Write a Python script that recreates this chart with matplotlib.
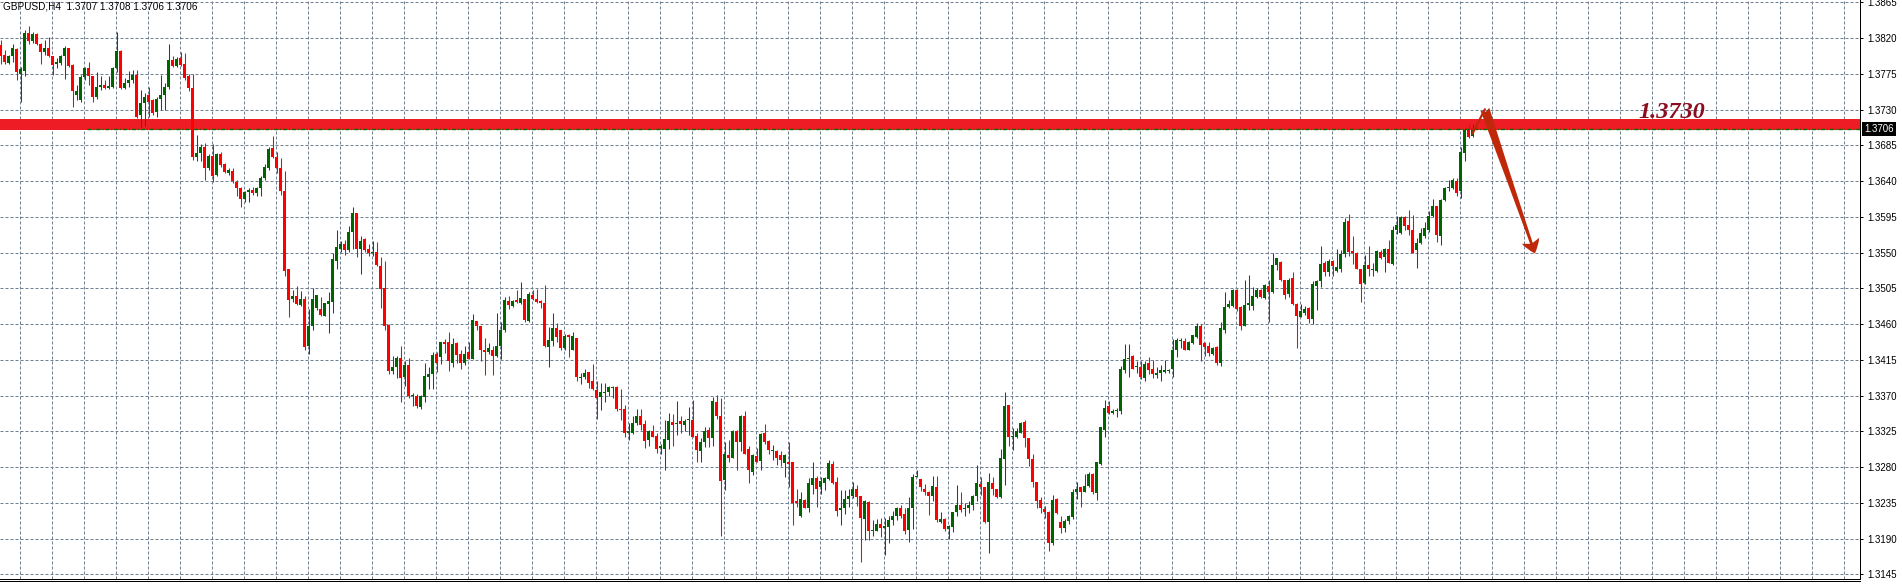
import numpy as np
import matplotlib
matplotlib.use('Agg')
import matplotlib.pyplot as plt
from matplotlib.lines import Line2D
from matplotlib.transforms import blended_transform_factory

# GBPUSD H4 candles, oldest first
opens = [
    1.3811, 1.3799, 1.3789, 1.3797, 1.3807, 1.3775, 1.3779, 1.3827, 1.3817, 1.3825,
    1.3813, 1.3802, 1.3808, 1.3797, 1.3788, 1.3789, 1.3797, 1.3808, 1.3786, 1.3748,
    1.3742, 1.3771, 1.3782, 1.3772, 1.3746, 1.3758, 1.3761, 1.3757, 1.3759, 1.3782,
    1.3804, 1.3757, 1.3763, 1.3767, 1.3774, 1.3723, 1.3738, 1.3749, 1.3742, 1.3727,
    1.3743, 1.3749, 1.3758, 1.3793, 1.3785, 1.3795, 1.3788, 1.3772, 1.3757, 1.3671,
    1.3676, 1.3683, 1.3656, 1.3672, 1.3648, 1.3674, 1.3662, 1.3650, 1.3653, 1.3639,
    1.3631, 1.3617, 1.3626, 1.3629, 1.3625, 1.3631, 1.3644, 1.3656, 1.3682, 1.3671,
    1.3656, 1.3628, 1.3529, 1.3491, 1.3495, 1.3484, 1.3492, 1.3433, 1.3458, 1.3480,
    1.3479, 1.3470, 1.3485, 1.3488, 1.3540, 1.3555, 1.3561, 1.3553, 1.3576, 1.3600,
    1.3555, 1.3567, 1.3555, 1.3550, 1.3551, 1.3533, 1.3506, 1.3459, 1.3401, 1.3406,
    1.3417, 1.3393, 1.3409, 1.3369, 1.3369, 1.3356, 1.3368, 1.3393, 1.3397, 1.3422,
    1.3419, 1.3438, 1.3438, 1.3411, 1.3436, 1.3423, 1.3411, 1.3425, 1.3416, 1.3464,
    1.3457, 1.3428, 1.3425, 1.3428, 1.3420, 1.3432, 1.3453, 1.3489, 1.3483, 1.3490,
    1.3487, 1.3491, 1.3464, 1.3497, 1.3491, 1.3489, 1.3487, 1.3431, 1.3439, 1.3455,
    1.3453, 1.3430, 1.3446, 1.3427, 1.3443, 1.3392, 1.3393, 1.3400, 1.3388, 1.3377,
    1.3368, 1.3373, 1.3374, 1.3379, 1.3381, 1.3353, 1.3353, 1.3323, 1.3323, 1.3335,
    1.3344, 1.3334, 1.3314, 1.3326, 1.3319, 1.3304, 1.3303, 1.3314, 1.3337, 1.3334,
    1.3338, 1.3333, 1.3339, 1.3339, 1.3319, 1.3300, 1.3312, 1.3327, 1.3316, 1.3362,
    1.3344, 1.3264, 1.3295, 1.3292, 1.3325, 1.3312, 1.3344, 1.3303, 1.3274, 1.3294,
    1.3288, 1.3323, 1.3313, 1.3300, 1.3300, 1.3295, 1.3285, 1.3287, 1.3287, 1.3237,
    1.3218, 1.3239, 1.3229, 1.3258, 1.3266, 1.3255, 1.3260, 1.3265, 1.3284, 1.3261,
    1.3226, 1.3228, 1.3240, 1.3243, 1.3253, 1.3243, 1.3215, 1.3236, 1.3199, 1.3200,
    1.3208, 1.3203, 1.3205, 1.3213, 1.3218, 1.3229, 1.3221, 1.3201, 1.3228, 1.3268,
    1.3265, 1.3253, 1.3249, 1.3243, 1.3255, 1.3211, 1.3214, 1.3202, 1.3204, 1.3223,
    1.3232, 1.3227, 1.3228, 1.3232, 1.3243, 1.3259, 1.3255, 1.3211, 1.3260, 1.3253,
    1.3242, 1.3290, 1.3358, 1.3318, 1.3318, 1.3323, 1.3337, 1.3317, 1.3290, 1.3261,
    1.3238, 1.3227, 1.3223, 1.3185, 1.3240, 1.3211, 1.3203, 1.3212, 1.3217, 1.3248,
    1.3255, 1.3249, 1.3256, 1.3271, 1.3247, 1.3284, 1.3327, 1.3357, 1.3348, 1.3350,
    1.3351, 1.3402, 1.3416, 1.3420, 1.3406, 1.3406, 1.3392, 1.3411, 1.3403, 1.3396,
    1.3398, 1.3400, 1.3401, 1.3403, 1.3427, 1.3439, 1.3439, 1.3427, 1.3436, 1.3444,
    1.3458, 1.3436, 1.3433, 1.3422, 1.3431, 1.3411, 1.3453, 1.3482, 1.3483, 1.3503,
    1.3482, 1.3458, 1.3484, 1.3483, 1.3494, 1.3503, 1.3493, 1.3508, 1.3501, 1.3534,
    1.3538, 1.3516, 1.3498, 1.3518, 1.3485, 1.3469, 1.3474, 1.3480, 1.3467, 1.3508,
    1.3514, 1.3537, 1.3526, 1.3539, 1.3527, 1.3530, 1.3548, 1.3590, 1.3552, 1.3550,
    1.3529, 1.3512, 1.3534, 1.3528, 1.3527, 1.3551, 1.3544, 1.3554, 1.3536, 1.3578,
    1.3575, 1.3595, 1.3585, 1.3579, 1.3553, 1.3562, 1.3571, 1.3578, 1.3596, 1.3609,
    1.3571, 1.3616, 1.3632, 1.3631, 1.3640, 1.3627, 1.3676, 1.3704, 1.3697, 1.3707,
]
highs = [
    1.3818, 1.3805, 1.3799, 1.3813, 1.3808, 1.3784, 1.3830, 1.3835, 1.3828, 1.3827,
    1.3814, 1.3818, 1.3822, 1.3798, 1.3795, 1.3799, 1.3810, 1.3808, 1.3788, 1.3761,
    1.3774, 1.3784, 1.3790, 1.3772, 1.3778, 1.3772, 1.3767, 1.3772, 1.3784, 1.3828,
    1.3805, 1.3770, 1.3779, 1.3780, 1.3780, 1.3755, 1.3751, 1.3758, 1.3743, 1.3746,
    1.3774, 1.3763, 1.3813, 1.3797, 1.3796, 1.3802, 1.3801, 1.3775, 1.3775, 1.3698,
    1.3687, 1.3688, 1.3674, 1.3687, 1.3675, 1.3677, 1.3663, 1.3656, 1.3656, 1.3642,
    1.3633, 1.3628, 1.3631, 1.3633, 1.3633, 1.3646, 1.3662, 1.3683, 1.3697, 1.3677,
    1.3669, 1.3653, 1.3530, 1.3503, 1.3508, 1.3502, 1.3495, 1.3479, 1.3506, 1.3497,
    1.3494, 1.3487, 1.3500, 1.3549, 1.3579, 1.3565, 1.3566, 1.3583, 1.3607, 1.3600,
    1.3571, 1.3568, 1.3561, 1.3565, 1.3564, 1.3545, 1.3539, 1.3460, 1.3420, 1.3420,
    1.3432, 1.3414, 1.3417, 1.3373, 1.3372, 1.3371, 1.3411, 1.3406, 1.3425, 1.3425,
    1.3437, 1.3441, 1.3450, 1.3443, 1.3437, 1.3427, 1.3432, 1.3438, 1.3473, 1.3464,
    1.3457, 1.3442, 1.3436, 1.3432, 1.3474, 1.3463, 1.3494, 1.3495, 1.3490, 1.3503,
    1.3513, 1.3492, 1.3500, 1.3503, 1.3504, 1.3490, 1.3509, 1.3456, 1.3474, 1.3461,
    1.3453, 1.3448, 1.3448, 1.3450, 1.3443, 1.3398, 1.3404, 1.3400, 1.3410, 1.3388,
    1.3386, 1.3386, 1.3382, 1.3382, 1.3382, 1.3378, 1.3358, 1.3335, 1.3344, 1.3353,
    1.3353, 1.3339, 1.3327, 1.3333, 1.3323, 1.3309, 1.3339, 1.3348, 1.3347, 1.3363,
    1.3344, 1.3341, 1.3356, 1.3364, 1.3323, 1.3316, 1.3330, 1.3331, 1.3368, 1.3371,
    1.3367, 1.3312, 1.3314, 1.3327, 1.3327, 1.3346, 1.3351, 1.3307, 1.3296, 1.3304,
    1.3323, 1.3334, 1.3314, 1.3308, 1.3302, 1.3300, 1.3297, 1.3311, 1.3287, 1.3252,
    1.3249, 1.3240, 1.3266, 1.3287, 1.3269, 1.3268, 1.3267, 1.3289, 1.3288, 1.3268,
    1.3251, 1.3251, 1.3252, 1.3261, 1.3258, 1.3244, 1.3239, 1.3237, 1.3213, 1.3214,
    1.3216, 1.3216, 1.3218, 1.3225, 1.3230, 1.3232, 1.3228, 1.3242, 1.3271, 1.3276,
    1.3265, 1.3259, 1.3250, 1.3269, 1.3269, 1.3223, 1.3216, 1.3207, 1.3224, 1.3258,
    1.3248, 1.3235, 1.3237, 1.3245, 1.3283, 1.3267, 1.3255, 1.3272, 1.3268, 1.3253,
    1.3303, 1.3375, 1.3358, 1.3329, 1.3329, 1.3337, 1.3339, 1.3317, 1.3297, 1.3261,
    1.3242, 1.3231, 1.3225, 1.3245, 1.3241, 1.3219, 1.3214, 1.3220, 1.3253, 1.3261,
    1.3255, 1.3271, 1.3274, 1.3272, 1.3287, 1.3331, 1.3364, 1.3363, 1.3353, 1.3354,
    1.3407, 1.3435, 1.3435, 1.3421, 1.3414, 1.3413, 1.3413, 1.3418, 1.3415, 1.3406,
    1.3409, 1.3415, 1.3403, 1.3441, 1.3442, 1.3442, 1.3442, 1.3439, 1.3446, 1.3461,
    1.3460, 1.3437, 1.3437, 1.3431, 1.3432, 1.3463, 1.3500, 1.3490, 1.3504, 1.3504,
    1.3483, 1.3516, 1.3522, 1.3507, 1.3506, 1.3504, 1.3511, 1.3516, 1.3549, 1.3543,
    1.3539, 1.3516, 1.3518, 1.3525, 1.3486, 1.3485, 1.3483, 1.3481, 1.3514, 1.3516,
    1.3558, 1.3539, 1.3542, 1.3541, 1.3554, 1.3553, 1.3593, 1.3599, 1.3571, 1.3551,
    1.3530, 1.3547, 1.3558, 1.3537, 1.3553, 1.3553, 1.3556, 1.3566, 1.3584, 1.3596,
    1.3596, 1.3596, 1.3604, 1.3597, 1.3568, 1.3581, 1.3589, 1.3602, 1.3618, 1.3609,
    1.3617, 1.3633, 1.3642, 1.3644, 1.3644, 1.3683, 1.3707, 1.3712, 1.3712, 1.3708,
]
lows = [
    1.3788, 1.3788, 1.3788, 1.3790, 1.3767, 1.3740, 1.3772, 1.3813, 1.3814, 1.3811,
    1.3788, 1.3799, 1.3796, 1.3774, 1.3782, 1.3786, 1.3769, 1.3784, 1.3734, 1.3742,
    1.3740, 1.3767, 1.3761, 1.3740, 1.3744, 1.3755, 1.3756, 1.3756, 1.3757, 1.3778,
    1.3756, 1.3756, 1.3759, 1.3764, 1.3719, 1.3708, 1.3709, 1.3721, 1.3723, 1.3721,
    1.3729, 1.3730, 1.3756, 1.3784, 1.3784, 1.3785, 1.3767, 1.3753, 1.3667, 1.3665,
    1.3665, 1.3642, 1.3654, 1.3639, 1.3646, 1.3658, 1.3650, 1.3648, 1.3638, 1.3621,
    1.3608, 1.3614, 1.3614, 1.3623, 1.3621, 1.3621, 1.3642, 1.3654, 1.3669, 1.3650,
    1.3623, 1.3520, 1.3469, 1.3488, 1.3484, 1.3483, 1.3428, 1.3423, 1.3453, 1.3478,
    1.3470, 1.3470, 1.3449, 1.3474, 1.3530, 1.3551, 1.3547, 1.3551, 1.3555, 1.3544,
    1.3523, 1.3551, 1.3546, 1.3546, 1.3533, 1.3480, 1.3453, 1.3397, 1.3397, 1.3392,
    1.3362, 1.3382, 1.3367, 1.3357, 1.3354, 1.3353, 1.3362, 1.3378, 1.3378, 1.3400,
    1.3410, 1.3424, 1.3401, 1.3406, 1.3411, 1.3404, 1.3409, 1.3416, 1.3416, 1.3453,
    1.3414, 1.3396, 1.3423, 1.3396, 1.3419, 1.3416, 1.3450, 1.3479, 1.3482, 1.3486,
    1.3485, 1.3463, 1.3463, 1.3490, 1.3487, 1.3480, 1.3431, 1.3406, 1.3432, 1.3437,
    1.3427, 1.3427, 1.3418, 1.3427, 1.3389, 1.3385, 1.3391, 1.3380, 1.3377, 1.3341,
    1.3352, 1.3362, 1.3370, 1.3367, 1.3350, 1.3339, 1.3318, 1.3314, 1.3322, 1.3333,
    1.3327, 1.3304, 1.3307, 1.3318, 1.3298, 1.3297, 1.3276, 1.3303, 1.3307, 1.3321,
    1.3323, 1.3326, 1.3321, 1.3318, 1.3287, 1.3286, 1.3305, 1.3305, 1.3306, 1.3341,
    1.3193, 1.3251, 1.3287, 1.3291, 1.3276, 1.3300, 1.3297, 1.3260, 1.3270, 1.3286,
    1.3276, 1.3309, 1.3297, 1.3289, 1.3283, 1.3281, 1.3267, 1.3255, 1.3207, 1.3230,
    1.3217, 1.3228, 1.3223, 1.3246, 1.3230, 1.3246, 1.3251, 1.3264, 1.3259, 1.3218,
    1.3207, 1.3221, 1.3230, 1.3241, 1.3231, 1.3160, 1.3188, 1.3188, 1.3193, 1.3199,
    1.3192, 1.3169, 1.3185, 1.3207, 1.3213, 1.3216, 1.3196, 1.3186, 1.3202, 1.3267,
    1.3250, 1.3245, 1.3220, 1.3237, 1.3211, 1.3209, 1.3200, 1.3190, 1.3198, 1.3218,
    1.3223, 1.3218, 1.3222, 1.3226, 1.3237, 1.3245, 1.3209, 1.3172, 1.3245, 1.3241,
    1.3241, 1.3258, 1.3306, 1.3301, 1.3316, 1.3323, 1.3305, 1.3281, 1.3255, 1.3228,
    1.3222, 1.3216, 1.3174, 1.3182, 1.3221, 1.3197, 1.3198, 1.3208, 1.3214, 1.3240,
    1.3230, 1.3248, 1.3255, 1.3246, 1.3239, 1.3283, 1.3318, 1.3347, 1.3347, 1.3343,
    1.3347, 1.3398, 1.3393, 1.3403, 1.3398, 1.3391, 1.3389, 1.3397, 1.3392, 1.3392,
    1.3389, 1.3398, 1.3399, 1.3394, 1.3418, 1.3430, 1.3427, 1.3427, 1.3435, 1.3443,
    1.3414, 1.3420, 1.3420, 1.3421, 1.3409, 1.3407, 1.3449, 1.3480, 1.3482, 1.3477,
    1.3453, 1.3458, 1.3478, 1.3478, 1.3493, 1.3493, 1.3491, 1.3463, 1.3499, 1.3528,
    1.3514, 1.3492, 1.3494, 1.3484, 1.3430, 1.3469, 1.3472, 1.3462, 1.3460, 1.3478,
    1.3507, 1.3520, 1.3521, 1.3521, 1.3526, 1.3526, 1.3545, 1.3546, 1.3536, 1.3529,
    1.3488, 1.3511, 1.3520, 1.3521, 1.3526, 1.3542, 1.3526, 1.3537, 1.3534, 1.3574,
    1.3574, 1.3579, 1.3572, 1.3549, 1.3531, 1.3561, 1.3569, 1.3576, 1.3595, 1.3564,
    1.3560, 1.3615, 1.3628, 1.3630, 1.3621, 1.3619, 1.3666, 1.3694, 1.3696, 1.3706,
]
closes = [
    1.3797, 1.3790, 1.3798, 1.3808, 1.3778, 1.3781, 1.3827, 1.3817, 1.3825, 1.3813,
    1.3802, 1.3808, 1.3797, 1.3786, 1.3790, 1.3797, 1.3808, 1.3785, 1.3753, 1.3754,
    1.3771, 1.3782, 1.3772, 1.3746, 1.3758, 1.3761, 1.3757, 1.3760, 1.3782, 1.3804,
    1.3757, 1.3763, 1.3767, 1.3774, 1.3721, 1.3738, 1.3746, 1.3740, 1.3726, 1.3743,
    1.3749, 1.3758, 1.3792, 1.3785, 1.3794, 1.3786, 1.3770, 1.3757, 1.3671, 1.3676,
    1.3683, 1.3656, 1.3672, 1.3646, 1.3674, 1.3660, 1.3652, 1.3654, 1.3640, 1.3631,
    1.3617, 1.3626, 1.3629, 1.3625, 1.3631, 1.3644, 1.3658, 1.3681, 1.3670, 1.3656,
    1.3628, 1.3527, 1.3490, 1.3495, 1.3485, 1.3491, 1.3431, 1.3458, 1.3491, 1.3497,
    1.3471, 1.3486, 1.3489, 1.3542, 1.3557, 1.3561, 1.3553, 1.3576, 1.3600, 1.3555,
    1.3565, 1.3553, 1.3550, 1.3551, 1.3534, 1.3504, 1.3458, 1.3401, 1.3406, 1.3417,
    1.3392, 1.3408, 1.3369, 1.3371, 1.3357, 1.3370, 1.3395, 1.3397, 1.3421, 1.3411,
    1.3437, 1.3435, 1.3413, 1.3435, 1.3421, 1.3411, 1.3423, 1.3416, 1.3465, 1.3457,
    1.3428, 1.3425, 1.3430, 1.3420, 1.3432, 1.3453, 1.3490, 1.3484, 1.3489, 1.3488,
    1.3493, 1.3465, 1.3498, 1.3492, 1.3488, 1.3486, 1.3432, 1.3440, 1.3455, 1.3444,
    1.3430, 1.3445, 1.3444, 1.3445, 1.3393, 1.3394, 1.3398, 1.3386, 1.3378, 1.3367,
    1.3374, 1.3375, 1.3381, 1.3381, 1.3353, 1.3352, 1.3323, 1.3325, 1.3335, 1.3344,
    1.3333, 1.3313, 1.3325, 1.3318, 1.3303, 1.3306, 1.3315, 1.3338, 1.3333, 1.3334,
    1.3334, 1.3338, 1.3339, 1.3318, 1.3301, 1.3312, 1.3326, 1.3317, 1.3363, 1.3344,
    1.3263, 1.3297, 1.3292, 1.3326, 1.3311, 1.3344, 1.3297, 1.3276, 1.3295, 1.3287,
    1.3322, 1.3311, 1.3301, 1.3301, 1.3291, 1.3289, 1.3295, 1.3284, 1.3235, 1.3235,
    1.3240, 1.3229, 1.3260, 1.3266, 1.3253, 1.3262, 1.3266, 1.3285, 1.3260, 1.3225,
    1.3228, 1.3240, 1.3244, 1.3253, 1.3242, 1.3216, 1.3237, 1.3200, 1.3200, 1.3208,
    1.3203, 1.3206, 1.3213, 1.3218, 1.3229, 1.3219, 1.3200, 1.3229, 1.3267, 1.3269,
    1.3255, 1.3249, 1.3244, 1.3256, 1.3213, 1.3214, 1.3202, 1.3206, 1.3223, 1.3232,
    1.3226, 1.3228, 1.3232, 1.3243, 1.3260, 1.3255, 1.3211, 1.3261, 1.3252, 1.3242,
    1.3291, 1.3357, 1.3318, 1.3319, 1.3325, 1.3336, 1.3317, 1.3290, 1.3261, 1.3237,
    1.3228, 1.3223, 1.3184, 1.3239, 1.3222, 1.3203, 1.3212, 1.3219, 1.3248, 1.3253,
    1.3248, 1.3256, 1.3271, 1.3248, 1.3286, 1.3330, 1.3355, 1.3348, 1.3350, 1.3352,
    1.3403, 1.3416, 1.3417, 1.3404, 1.3407, 1.3393, 1.3410, 1.3402, 1.3397, 1.3399,
    1.3402, 1.3402, 1.3402, 1.3427, 1.3440, 1.3440, 1.3428, 1.3437, 1.3446, 1.3457,
    1.3434, 1.3431, 1.3424, 1.3430, 1.3411, 1.3455, 1.3481, 1.3485, 1.3503, 1.3479,
    1.3458, 1.3484, 1.3486, 1.3495, 1.3503, 1.3494, 1.3509, 1.3501, 1.3534, 1.3543,
    1.3515, 1.3497, 1.3516, 1.3485, 1.3470, 1.3477, 1.3479, 1.3467, 1.3511, 1.3514,
    1.3536, 1.3525, 1.3539, 1.3533, 1.3532, 1.3548, 1.3589, 1.3551, 1.3550, 1.3530,
    1.3511, 1.3534, 1.3530, 1.3529, 1.3552, 1.3543, 1.3555, 1.3537, 1.3579, 1.3585,
    1.3595, 1.3584, 1.3579, 1.3550, 1.3562, 1.3575, 1.3581, 1.3596, 1.3609, 1.3572,
    1.3616, 1.3631, 1.3633, 1.3642, 1.3625, 1.3677, 1.3704, 1.3695, 1.3705, 1.3706,
]

# right hand price scale
price_ticks = [1.3145, 1.3190, 1.3235, 1.3280, 1.3325, 1.3370, 1.3415, 1.3460, 1.3505,
               1.3550, 1.3595, 1.3640, 1.3685, 1.3730, 1.3775, 1.3820, 1.3865]
price_labels = ['%.4f' % p for p in price_ticks]

# drawn level, bid line and label
level_text = '1.3730'
level_band = [1.37045, 1.37183]
bid_price = 1.3706
bid_start = 21.6

# hand drawn arrow: from the last candles up to the peak, then down to the tip
arrow_x = [368.0, 371.1, 383.6]
arrow_y = [1.3700, 1.37305, 1.3549]

title = 'GBPUSD,H4  1.3707 1.3708 1.3706 1.3706'

bull_col = '#006400'
bear_col = '#ff0000'
grid_col = '#708090'
band_col = '#ee1c25'
arrow_col = '#c0280a'

o = np.array(opens)
h = np.array(highs)
l = np.array(lows)
c = np.array(closes)
idx = np.arange(len(o))
h = np.maximum(h, np.maximum(o, c))
l = np.minimum(l, np.minimum(o, c))
cols = np.where(c >= o, bull_col, bear_col)

W, H = 1902, 584
fig = plt.figure(figsize=(W / 100, H / 100), dpi=100)
ax = fig.add_axes([0, 5.5 / H, 1860 / W, 578.5 / H])
ax.set_xlim(-0.125, 464.875)
ax.set_ylim(1.31397, 1.38681)

# grid
ax.set_axisbelow(True)
ax.set_xticks(np.arange(4.95, 464, 8))
ax.set_yticks(price_ticks)
ax.set_yticklabels(price_labels)
ax.grid(True, color=grid_col, lw=0.72, linestyle=(0, (3, 2)))
ax.tick_params(axis='x', length=0, labelbottom=False)
ax.yaxis.tick_right()
ax.tick_params(axis='y', direction='out', length=2.2, width=0.72, pad=3,
               labelsize=7, colors='black')
for t in ax.get_yticklabels():
    t.set_fontfamily('Liberation Sans')

for s in ['left', 'top']:
    ax.spines[s].set_visible(False)
for s in ['right', 'bottom']:
    ax.spines[s].set_linewidth(0.72)
    ax.spines[s].set_color('black')
fig.add_artist(Line2D([0, 1860 / W], [3.5 / H, 3.5 / H], transform=fig.transFigure,
                      color='black', lw=0.72))

# level band and bid line
ax.axhspan(level_band[0], level_band[1], color=band_col, lw=0, zorder=1)
ax.hlines(bid_price, bid_start, 464.875, colors='#007000', lw=1.0,
          linestyles=(0, (2.9, 1.4, 0.7, 1.4)), zorder=2)

# candles
ax.vlines(idx, l, h, colors=cols, lw=0.75, zorder=3)
body = np.maximum(np.abs(c - o), 0.00012)
ax.bar(idx, body, width=0.75, bottom=np.minimum(o, c), color=cols, lw=0, zorder=4)

# arrow
ax.plot(arrow_x[:2], arrow_y[:2], color=arrow_col, lw=1.6, solid_capstyle='round', zorder=5)
ax.annotate('', xy=(arrow_x[2], arrow_y[2]), xytext=(arrow_x[1], arrow_y[1]),
            arrowprops=dict(arrowstyle='fancy,head_length=0.8,head_width=1.1,tail_width=0.55',
                            mutation_scale=12, color=arrow_col, lw=0,
                            shrinkA=0, shrinkB=0), zorder=5)

# level text
ax.text(409.4, 1.3719, level_text, fontsize=17.5, fontfamily='Liberation Serif',
        fontweight='bold', fontstyle='italic', color='#8b0d1f',
        ha='left', va='baseline', zorder=6)

# bid price box on the scale
tr = blended_transform_factory(ax.transAxes, ax.transData)
ax.text(1864 / 1860, bid_price, '%.4f' % bid_price, transform=tr, fontsize=7,
        fontfamily='Liberation Sans', color='white', ha='left', va='center',
        bbox=dict(boxstyle='square,pad=0.22', fc='black', ec='none'), clip_on=False)

fig.text(3 / W, 1 - 1.5 / H, title, fontsize=7.2, fontfamily='Liberation Sans',
         ha='left', va='top')

fig.savefig('out.png', dpi=100)
